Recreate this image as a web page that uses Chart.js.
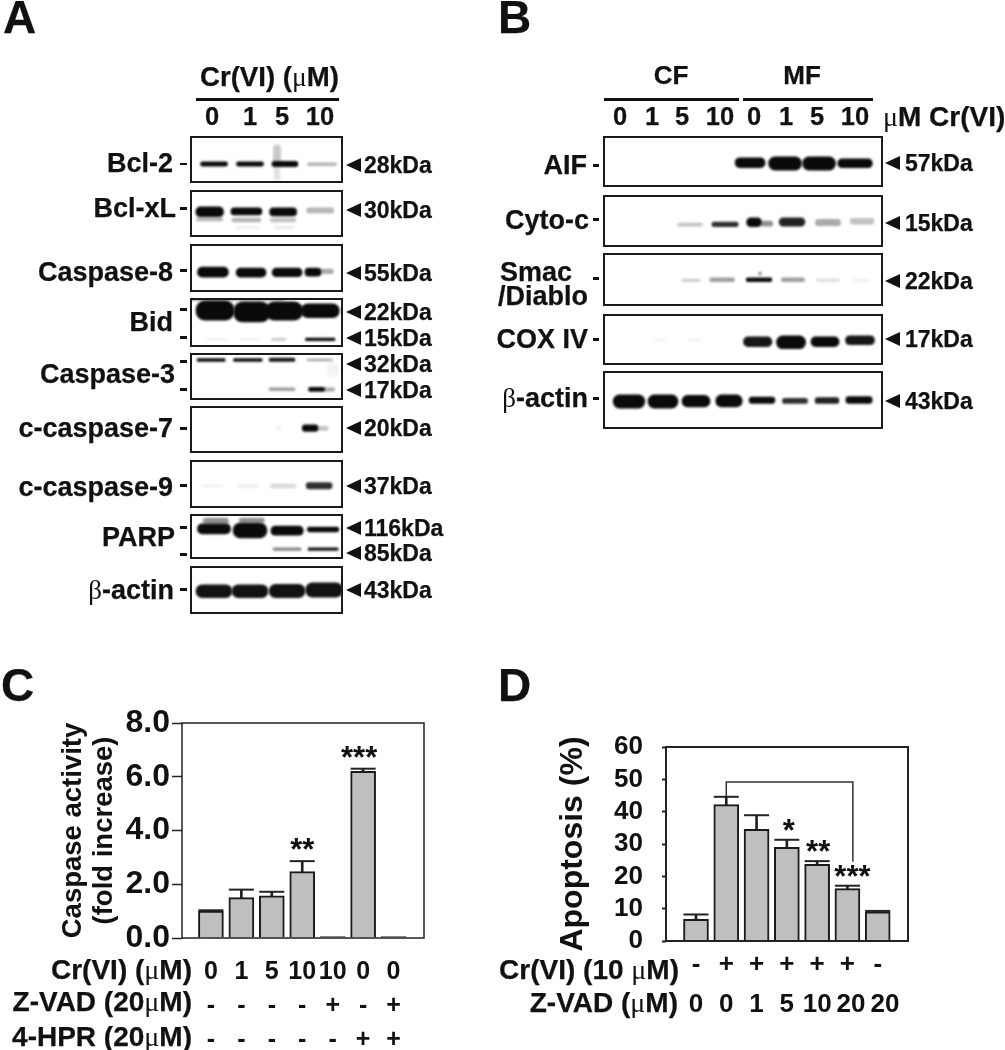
<!DOCTYPE html>
<html>
<head>
<meta charset="utf-8">
<title>Cr(VI) apoptosis figure</title>
<script src="https://cdn.jsdelivr.net/npm/chart.js@4/dist/chart.umd.min.js"></script>
<style>
  html, body { margin: 0; background: #fff; }
  #page { position: relative; width: 1005px; height: 1050px; overflow: hidden; font-family: "Liberation Sans", Arial, sans-serif; color: #111; filter: blur(0.45px); }
  #page canvas { position: absolute; }
  .txt { position: absolute; font-weight: bold; line-height: 1; white-space: nowrap; transform: translateY(-50%); -webkit-text-stroke: 0.25px #111; }
  .sym { font-family: "Liberation Serif", serif; font-weight: normal; -webkit-text-stroke: 0; }
  .mark { position: absolute; background: #111; }
  .arrow { position: absolute; width: 0; height: 0; border-style: solid; border-color: transparent #111 transparent transparent; border-width: 7px 15px 7px 0; }
</style>
</head>
<body>
<div id="page"></div>
<script>
// blot bands: [lane, top %, bottom %, width in lanes, density]
const bcl2Bands = [[0, 55, 64, 0.75, 1], [1, 55, 64, 0.75, 1], [1.97, 54, 65, 0.72, 1], [3, 57, 63, 0.8, 0.3], [1.75, 19, 58, 0.2, 0.22], [1.75, 65, 94, 0.16, 0.12]];
const bclxlBands = [[-0.12, 36, 57, 0.77, 1], [-0.12, 58, 66, 0.72, 0.3], [0.9, 38, 53, 0.86, 1], [0.9, 60, 68, 0.8, 0.3], [1.92, 38, 55, 0.75, 1], [1.92, 60, 68, 0.7, 0.25], [2.95, 38, 49, 0.75, 0.3], [0.95, 78, 82, 0.6, 0.08], [1.95, 78, 82, 0.5, 0.1]];
const casp8Bands = [[-0.03, 48, 69, 0.86, 1], [1.03, 50, 69, 0.83, 1], [2.03, 50, 68, 0.83, 1], [2.75, 50, 67, 0.45, 1], [3.14, 52, 62, 0.35, 0.35]];
const bidBands = [[0.03, 6, 45, 1.06, 1], [1.05, 8, 49, 1.0, 1], [1.95, 8, 45, 1.04, 1], [2.95, 12, 40, 1.06, 1], [0.5, 0, 5, 2.9, 0.4], [2.95, 82, 87, 0.82, 1], [1.8, 82, 87, 0.4, 0.2], [0.1, 83, 86, 0.6, 0.06], [1, 83, 86, 0.6, 0.06]];
const casp3Bands = [[-0.08, 12, 18, 0.78, 1], [0.94, 12, 18, 0.8, 1], [1.89, 11, 18, 0.72, 0.95], [2.94, 13, 17, 0.7, 0.35], [1.89, 74, 80, 0.72, 0.4], [2.85, 73, 82, 0.45, 1], [3.2, 74, 81, 0.3, 0.35], [3.3, 20, 50, 0.3, 0.05]];
const casp7Bands = [[2.67, 40, 54, 0.44, 1], [3.03, 43, 52, 0.28, 0.25], [1.8, 44, 52, 0.15, 0.05]];
const casp9Bands = [[2.92, 47, 60, 0.72, 0.85], [1.92, 50, 58, 0.7, 0.15], [0.95, 51, 57, 0.6, 0.07], [-0.05, 51, 57, 0.6, 0.05]];
const parpBands = [[0, 22, 44, 0.92, 1], [0.05, 9, 22, 0.7, 0.45], [1, 20, 53, 0.94, 1], [1.05, 9, 20, 0.7, 0.45], [2.03, 27, 47, 0.9, 1], [3.03, 29, 40, 0.88, 1], [2.03, 75, 81, 0.78, 0.5], [3.03, 75, 81, 0.84, 0.95]];
const actinABands = [[0, 39, 66, 1.0, 0.97], [1, 39, 66, 1.0, 0.97], [2.03, 38, 66, 1.0, 0.97], [3.06, 35, 65, 1.03, 0.97]];
const aifBands = [[3.67, 43, 62, 0.91, 1], [4.73, 41, 67, 1.0, 1], [5.76, 41, 67, 1.0, 1], [6.85, 45, 62, 1.05, 1]];
const cytoBands = [[1.85, 54, 60, 0.75, 0.25], [2.91, 52, 61, 0.8, 0.85], [3.79, 44, 61, 0.45, 1], [4.18, 50, 60, 0.35, 0.45], [4.94, 44, 60, 0.78, 0.9], [6.03, 47, 59, 0.76, 0.35], [7.06, 45, 56, 0.72, 0.25]];
const smacBands = [[1.88, 49, 54, 0.55, 0.2], [2.82, 47, 54, 0.75, 0.4], [3.94, 47, 54, 0.78, 1], [4.97, 47, 54, 0.7, 0.4], [6.03, 49, 54, 0.7, 0.13], [7.06, 49, 53, 0.5, 0.07], [3.97, 36, 41, 0.1, 0.4]];
const coxBands = [[3.9, 45, 64, 0.86, 0.95], [4.91, 43, 68, 0.88, 1], [5.94, 45, 64, 0.85, 1], [7, 43, 60, 0.88, 0.95], [0.95, 48, 54, 0.3, 0.05], [2, 48, 54, 0.4, 0.05]];
const actinBBands = [[0, 41, 64, 0.96, 1], [1.03, 41, 64, 0.91, 1], [2.03, 42, 62, 0.85, 1], [3.03, 41, 62, 0.8, 1], [4.03, 45, 56, 0.78, 1], [5.03, 47, 56, 0.76, 0.85], [6, 46, 56, 0.72, 0.9], [6.97, 44, 56, 0.8, 1]];

// bar panels
const caspaseDose = ["0", "1", "5", "10", "10", "0", "0"];
const caspaseZvad = ["-", "-", "-", "-", "+", "-", "+"];
const caspaseHpr = ["-", "-", "-", "-", "-", "+", "+"];
const caspaseValues = [1.0, 1.5, 1.57, 2.47, 0.05, 6.2, 0.05];
const caspaseErrors = [0.03, 0.3, 0.15, 0.39, 0, 0.1, 0];
const caspaseStars = ["", "", "", "**", "", "***", ""];

const apoptosisCr = ["-", "+", "+", "+", "+", "+", "-"];
const apoptosisZvad = ["0", "0", "1", "5", "10", " 20", "  20"];
const apoptosisValues = [6.7, 42.2, 34.5, 29, 23.7, 16.2, 9];
const apoptosisErrors = [1.5, 2.4, 4.4, 2.3, 1, 0.9, 0.3];
const apoptosisStars = ["", "", "", "*", "**", "***", ""];
const bracketLanes = [1, 1, 5.18, 5.18];
const bracketValues = [44.6, 49.2, 49.2, 24.5];

const page = document.getElementById("page");

function addText(text, x, y, size, align) {
    const el = document.createElement("div");
    el.className = "txt";
    el.innerHTML = text.replace(/[μβ]/g, '<span class="sym">$&</span>');
    el.style.fontSize = size + "px";
    el.style.top = y + "px";
    if (align === "right") el.style.right = 1005 - x + "px";
    else if (align === "center") { el.style.left = x + "px"; el.style.transform = "translate(-50%,-50%)"; }
    else el.style.left = x + "px";
    page.appendChild(el);
}

function addMark(x, y, w, h) {
    const el = document.createElement("div");
    el.className = "mark";
    el.style.cssText = `left:${x}px;top:${y}px;width:${w}px;height:${h}px`;
    page.appendChild(el);
}

function addArrow(x, y) {
    const el = document.createElement("div");
    el.className = "arrow";
    el.style.left = x + "px";
    el.style.top = y - 7 + "px";
    page.appendChild(el);
}

function addCanvas(x, y, w, h) {
    const c = document.createElement("canvas");
    c.width = w;
    c.height = h;
    c.style.cssText = `left:${x}px;top:${y}px;width:${w}px;height:${h}px`;
    page.appendChild(c);
    return c;
}

const softBands = {
    id: "softBands",
    beforeDatasetsDraw(chart) {
        chart.ctx.save();
        chart.ctx.filter = "blur(1px)";
    },
    afterDatasetsDraw(chart) {
        chart.ctx.restore();
    },
};

const blotFrame = {
    id: "blotFrame",
    afterDraw(chart) {
        const ctx = chart.ctx;
        ctx.save();
        ctx.lineWidth = 2;
        ctx.strokeStyle = "#1a1a1a";
        ctx.strokeRect(1, 1, chart.width - 2, chart.height - 2);
        ctx.restore();
    },
};

function drawBlot(bands, box, laneMin, laneMax) {
    const w = box[1] - box[0];
    const h = box[3] - box[2];
    const laneW = w / (laneMax - laneMin);
    new Chart(addCanvas(box[0], box[2], w, h), {
        type: "bar",
        data: {
            datasets: bands.map((b) => ({
                data: [{ x: b[0], y: [b[1], b[2]] }],
                barThickness: b[3] * laneW,
                backgroundColor: `rgba(10,10,10,${b[4]})`,
                borderRadius: 9,
                borderSkipped: false,
                grouped: false,
            })),
        },
        options: {
            responsive: false,
            animation: false,
            plugins: { legend: { display: false }, tooltip: { enabled: false } },
            scales: {
                x: { type: "linear", display: false, offset: false, min: laneMin, max: laneMax },
                y: { display: false, reverse: true, min: 0, max: 100 },
            },
        },
        plugins: [softBands, blotFrame],
    });
}

// panel A
drawBlot(bcl2Bands, [190, 343, 136, 183], -0.667, 3.583);
drawBlot(bclxlBands, [190, 343, 190, 237], -0.667, 3.583);
drawBlot(casp8Bands, [190, 343, 244, 292], -0.667, 3.583);
drawBlot(bidBands, [190, 343, 298, 347], -0.667, 3.583);
drawBlot(casp3Bands, [190, 343, 353, 400], -0.667, 3.583);
drawBlot(casp7Bands, [190, 343, 406, 453], -0.667, 3.583);
drawBlot(casp9Bands, [190, 343, 460, 508], -0.667, 3.583);
drawBlot(parpBands, [190, 343, 514, 559], -0.667, 3.583);
drawBlot(actinABands, [190, 343, 566, 614], -0.667, 3.583);

// panel B
drawBlot(aifBands, [603, 883, 136, 187], -0.788, 7.697);
drawBlot(cytoBands, [603, 883, 195, 247], -0.788, 7.697);
drawBlot(smacBands, [603, 883, 253, 306], -0.788, 7.697);
drawBlot(coxBands, [603, 883, 314, 365], -0.788, 7.697);
drawBlot(actinBBands, [603, 883, 371, 429], -0.788, 7.697);

function barPanel(cfg) {
    const pts = cfg.values.map((v, i) => ({ x: i, y: v }));
    const tops = cfg.values.map((v, i) => v + cfg.errors[i]);
    const withErr = cfg.values.map((v, i) => i).filter((i) => cfg.errors[i] > 0);
    const stars = {
        id: "stars",
        afterDatasetsDraw(chart) {
            const ctx = chart.ctx;
            ctx.save();
            ctx.font = 'bold 31px "Liberation Sans"';
            ctx.textAlign = "center";
            ctx.textBaseline = "alphabetic";
            ctx.fillStyle = "#111";
            cfg.stars.forEach((s, i) => {
                if (!s) return;
                const px = chart.scales.x.getPixelForValue(i);
                const py = chart.scales.y.getPixelForValue(tops[i]);
                ctx.fillText(s, px + cfg.starShift[i], py + cfg.starDrop);
            });
            ctx.restore();
        },
    };
    const frame = {
        id: "frame",
        afterDraw(chart) {
            const a = chart.chartArea;
            const ctx = chart.ctx;
            ctx.save();
            ctx.lineWidth = cfg.lineW;
            ctx.strokeStyle = "#222";
            ctx.strokeRect(a.left, a.top, a.right - a.left, a.bottom - a.top);
            ctx.restore();
        },
    };
    const datasets = [
        {
            type: "bar",
            data: pts,
            barThickness: 25,
            grouped: false,
            backgroundColor: "#bfbfbf",
            borderColor: "#1a1a1a",
            borderWidth: 2,
            borderSkipped: "bottom",
        },
        {
            type: "bar",
            data: withErr.map((i) => ({ x: i, y: [cfg.values[i], tops[i]] })),
            barThickness: 2,
            grouped: false,
            backgroundColor: "#222",
        },
        {
            type: "scatter",
            data: withErr.map((i) => ({ x: i, y: tops[i] })),
            pointStyle: "line",
            pointRadius: 12.5,
            pointBorderWidth: 2,
            pointBorderColor: "#222",
        },
    ];
    if (cfg.bracket) {
        datasets.push({
            type: "line",
            data: cfg.bracket,
            borderColor: "#333",
            borderWidth: 1.5,
            pointRadius: 0,
            tension: 0,
            fill: false,
        });
    }
    new Chart(addCanvas(cfg.left, cfg.top, 460, 390), {
        data: { datasets },
        options: {
            responsive: false,
            animation: false,
            layout: { padding: { top: cfg.padTop, right: cfg.padRight, left: 0, bottom: 0 } },
            plugins: { legend: { display: false }, tooltip: { enabled: false } },
            scales: {
                x: {
                    type: "linear",
                    offset: false,
                    min: cfg.xMin,
                    max: cfg.xMax,
                    afterBuildTicks(scale) {
                        scale.ticks = cfg.rows[0].map((_, i) => ({ value: i }));
                    },
                    afterFit(scale) {
                        scale.height = cfg.xHeight;
                    },
                    grid: { display: false },
                    border: { display: false },
                    ticks: {
                        autoSkip: false,
                        maxRotation: 0,
                        padding: cfg.xPad,
                        color: "#111",
                        font: { family: "Liberation Sans", weight: "bold", size: cfg.xFont, lineHeight: cfg.xLine },
                        callback: (v) => cfg.rows.map((r) => r[v]),
                    },
                },
                y: {
                    min: 0,
                    max: cfg.yMax,
                    afterFit(scale) {
                        scale.width = cfg.yWidth;
                    },
                    grid: { drawOnChartArea: false, tickLength: cfg.tickLen, tickWidth: cfg.lineW, tickColor: "#222" },
                    border: { display: false },
                    title: {
                        display: true,
                        text: cfg.title,
                        color: "#111",
                        padding: { top: cfg.titlePad, bottom: 0 },
                        font: { family: "Liberation Sans", weight: "bold", size: cfg.titleFont, lineHeight: cfg.titleLine },
                    },
                    ticks: {
                        autoSkip: false,
                        stepSize: cfg.yStep,
                        padding: cfg.yPad,
                        color: "#111",
                        font: { family: "Liberation Sans", weight: "bold", size: cfg.yFont },
                        callback: cfg.yFormat,
                    },
                },
            },
        },
        plugins: [frame, stars],
    });
}

// panel C
barPanel({
    left: 0, top: 660, padTop: 63, padRight: 36, xHeight: 112, yWidth: 182,
    xMin: -0.95, xMax: 7, xPad: 9, xFont: 25, xLine: 1.36,
    rows: [caspaseDose, caspaseZvad, caspaseHpr],
    values: caspaseValues, errors: caspaseErrors, stars: caspaseStars, starDrop: -1, starShift: [0, 0, 0, 0, 0, -4, 0],
    yMax: 8, yStep: 2, yFont: 32, yPad: 2, tickLen: 10, lineW: 1.5,
    yFormat: (v) => v.toFixed(1),
    title: ["Caspase activity", "(fold increase)"], titlePad: 58, titleFont: 27.5, titleLine: 1.13,
});

// panel D
barPanel({
    left: 490, top: 660, padTop: 87, padRight: 42, xHeight: 109, yWidth: 176,
    xMin: -0.99, xMax: 7, xPad: -4, xFont: 26, xLine: 1.54,
    rows: [apoptosisCr, apoptosisZvad],
    values: apoptosisValues, errors: apoptosisErrors, stars: apoptosisStars, starDrop: 1, starShift: [0, 0, 0, 2, 1, 5, 0],
    bracket: bracketLanes.map((x, i) => ({ x, y: bracketValues[i] })),
    yMax: 60, yStep: 10, yFont: 26, yPad: 19, tickLen: 4, lineW: 2,
    yFormat: (v) => v,
    title: "Apoptosis (%)", titlePad: 65, titleFont: 32, titleLine: 1.15,
});

// panel letters
addText("A", 3, 17, 46);
addText("B", 498, 17, 46);
addText("C", 1, 685, 46);
addText("D", 498, 685, 46);

// panel A text
addText("Cr(VI) (μM)", 200, 77, 27.6);
addMark(196, 98, 143, 3);
[["0", 212], ["1", 250], ["5", 282], ["10", 320]].forEach((t) => addText(t[0], t[1], 117, 25.5, "center"));
[["Bcl-2", 173, 163], ["Bcl-xL", 176, 208], ["Caspase-8", 173, 272], ["Bid", 173, 322], ["Caspase-3", 175, 374],
 ["c-caspase-7", 173, 428], ["c-caspase-9", 173, 487], ["PARP", 175, 537], ["β-actin", 174, 590]]
    .forEach((t) => addText(t[0], t[1], t[2], 27, "right"));
[163.5, 208, 270, 309, 337, 361, 389, 428, 485, 527, 554, 589].forEach((y) => addMark(180, y - 1, 7, 2.5));
[["28kDa", 165], ["30kDa", 210], ["55kDa", 273], ["22kDa", 312], ["15kDa", 338], ["32kDa", 364], ["17kDa", 390],
 ["20kDa", 428], ["37kDa", 486], ["116kDa", 528], ["85kDa", 553], ["43kDa", 590]].forEach((t) => {
    addArrow(346, t[1]);
    addText(t[0], 364, t[1], 23);
});

// panel B text
addText("CF", 671, 75, 26, "center");
addText("MF", 802, 75, 26, "center");
addMark(604, 98, 135, 3);
addMark(743, 98, 130, 3);
[["0", 620], ["1", 652], ["5", 682], ["10", 720], ["0", 754], ["1", 786], ["5", 817], ["10", 855]]
    .forEach((t) => addText(t[0], t[1], 117, 25.5, "center"));
addText("μM Cr(VI)", 883, 117, 28);
[["AIF", 587, 165], ["Cyto-c", 589, 220], ["COX IV", 588, 339], ["β-actin", 588, 398]]
    .forEach((t) => addText(t[0], t[1], t[2], 27, "right"));
addText("Smac", 500, 272, 27);
addText("/Diablo", 498, 296, 27);
[165, 219, 278, 339, 398].forEach((y) => addMark(593, y - 1, 6, 2.5));
[["57kDa", 163], ["15kDa", 223], ["22kDa", 281], ["17kDa", 339], ["43kDa", 401]].forEach((t) => {
    addArrow(885, t[1]);
    addText(t[0], 905, t[1], 23);
});

// row labels under the bars
addText("Cr(VI) (μM)", 192, 970, 28, "right");
addText("Z-VAD (20μM)", 192, 1002, 28, "right");
addText("4-HPR (20μM)", 192, 1037, 28, "right");
addText("Cr(VI) (10 μM)", 679, 970, 28, "right");
addText("Z-VAD (μM)", 678, 1003, 28, "right");
</script>
</body>
</html>
